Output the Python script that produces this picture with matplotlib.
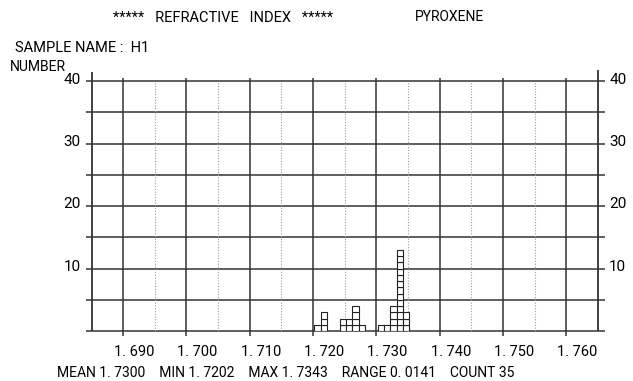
import matplotlib
matplotlib.use("Agg")
import matplotlib.pyplot as plt
import matplotlib.transforms as mtransforms
import numpy as np

# ---- data ----
bin_left = [1.7202, 1.7212, 1.7242, 1.7252, 1.7262, 1.7272,
            1.7302, 1.7312, 1.7322, 1.7332, 1.7342]
counts = [1, 3, 2, 2, 4, 1, 1, 1, 4, 13, 3]
bin_width = 0.001

x_major = [1.690, 1.700, 1.710, 1.720, 1.730, 1.740, 1.750, 1.760]
x_labels = ["1. 690", "1. 700", "1. 710", "1. 720", "1. 730", "1. 740", "1. 750", "1. 760"]
x_minor = [1.695, 1.705, 1.715, 1.725, 1.735, 1.745, 1.755]
y_grid = [0, 5, 10, 15, 20, 25, 30, 35, 40]
y_ticks = [10, 20, 30, 40]
y_labels = ["10", "20", "30", "40"]
x_range = (1.685, 1.765)
y_range = (0, 40)

title_left = "*****   REFRACTIVE   INDEX   *****"
title_right = "PYROXENE"
sample_text = "SAMPLE NAME :  H1"
ylabel_text = "NUMBER"
stats_text = "MEAN 1. 7300    MIN 1. 7202    MAX 1. 7343    RANGE 0. 0141    COUNT 35"

FONT = ["Roboto", "DejaVu Sans"]
plt.rcParams["font.family"] = FONT

W, H = 633, 381
fig = plt.figure(figsize=(W / 100, H / 100), dpi=100)
ax = fig.add_axes([91.5 / W, 50 / H, (598 - 91.5) / W, (331 - 81) / H])
ax.set_xlim(*x_range)
ax.set_ylim(*y_range)
for s in ax.spines.values():
    s.set_visible(False)

gc = "#333333"
px_x = (x_range[1] - x_range[0]) / (598 - 91.5)
px_y = (y_range[1] - y_range[0]) / (331 - 81)

# horizontal grid lines (extended as ticks)
for y in y_grid:
    ax.plot([x_range[0] - 6 * px_x, x_range[1] + 7 * px_x], [y, y],
            color=gc, lw=1.1, clip_on=False, solid_capstyle="butt")

# vertical solid lines
for x in x_major:
    ax.plot([x, x], [y_range[0] - 5 * px_y, y_range[1] + 3 * px_y],
            color=gc, lw=1.1, clip_on=False, solid_capstyle="butt")
# axes borders
ax.plot([x_range[0]] * 2, [y_range[0], y_range[1] + 9 * px_y], color=gc, lw=1.3,
        clip_on=False, solid_capstyle="butt")
ax.plot([x_range[1]] * 2, [y_range[0], y_range[1] + 11 * px_y], color=gc, lw=1.3,
        clip_on=False, solid_capstyle="butt")
# dotted minor lines
for x in x_minor:
    ax.plot([x, x], [y_range[0], y_range[1]], color="#999999", lw=0.8,
            ls=(0, (1, 1.5)), clip_on=False)

# stacked histogram cells
for left, c in zip(bin_left, counts):
    for k in range(c):
        ax.bar(left, 1, width=bin_width, bottom=k, align="edge",
               facecolor="white", edgecolor="#222222", linewidth=0.8, zorder=3)

# ticks / labels
ax.set_xticks(x_major)
ax.set_xticklabels(x_labels, fontsize=10.5)
ax.tick_params(axis="x", length=0, pad=10)
off = mtransforms.ScaledTranslation(11 / 100, 0, fig.dpi_scale_trans)
for lab in ax.get_xticklabels():
    lab.set_transform(lab.get_transform() + off)

ax.set_yticks(y_ticks)
ax.set_yticklabels(y_labels, fontsize=11)
ax.tick_params(axis="y", length=0, left=False, right=False,
               labelleft=True, labelright=True, pad=8)
offy = mtransforms.ScaledTranslation(0, 3 / 100, fig.dpi_scale_trans)
for tick in ax.yaxis.get_major_ticks():
    tick.label1.set_transform(tick.label1.get_transform() + offy)
    tick.label2.set_transform(tick.label2.get_transform() + offy)

# texts
fig.text(113 / W, 1 - 18 / H, title_left, fontsize=10.5, ha="left", va="center")
fig.text(415 / W, 1 - 17 / H, title_right, fontsize=10, ha="left", va="center")
fig.text(15 / W, 1 - 48 / H, sample_text, fontsize=10.5, ha="left", va="center")
fig.text(10 / W, 1 - 67 / H, ylabel_text, fontsize=10, ha="left", va="center")
fig.text(57 / W, 1 - 373 / H, stats_text, fontsize=10, ha="left", va="center")

fig.savefig("out.png", dpi=100)
